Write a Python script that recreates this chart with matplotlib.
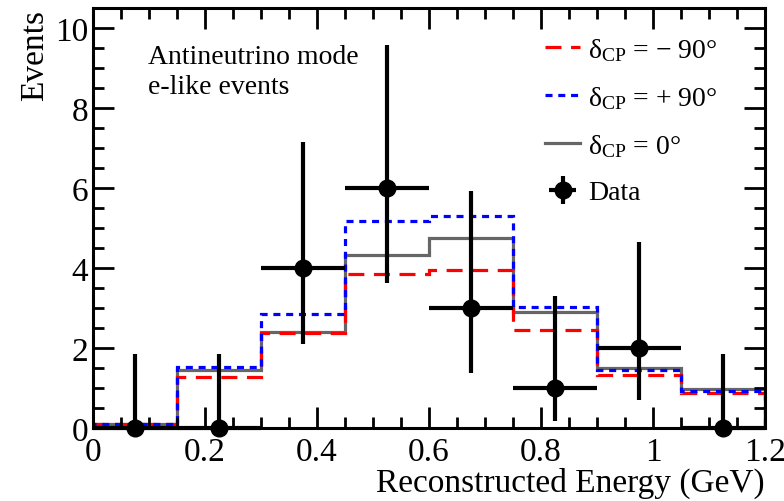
import numpy as np
import matplotlib
matplotlib.use('Agg')
import matplotlib.pyplot as plt

plt.rcParams['font.family'] = 'Liberation Serif'
plt.rcParams['mathtext.fontset'] = 'custom'
plt.rcParams['mathtext.rm'] = 'Liberation Serif'
plt.rcParams['mathtext.it'] = 'Liberation Serif:italic'

# binning (GeV)
bin_edges = [0.0, 0.15, 0.3, 0.45, 0.6, 0.75, 0.9, 1.05, 1.2]

# predictions
dcp_m90 = [0.1, 1.28, 2.37, 3.84, 3.96, 2.45, 1.32, 0.87]
dcp_p90 = [0.1, 1.53, 2.85, 5.17, 5.30, 3.02, 1.44, 0.93]
dcp_0 = [0.1, 1.44, 2.41, 4.33, 4.76, 2.91, 1.49, 0.97]

# data
data_x = [0.075, 0.225, 0.375, 0.525, 0.675, 0.825, 0.975, 1.125]
data_y = [0, 0, 4, 6, 3, 1, 2, 0]
err_lo = [0, 0, 1.91, 2.38, 1.63, 0.83, 1.29, 0]
err_hi = [1.84, 1.84, 3.16, 3.58, 2.92, 2.30, 2.64, 1.84]

fig = plt.figure(figsize=(7.84, 5.02), dpi=100)
ax = fig.add_axes([93/784, 1-429/502, (765-93)/784, (429-9)/502])

lw = 2.3
ax.stairs(dcp_0, bin_edges, color='#666666', lw=lw, label=r'δ$_{\rm CP}$ = 0°')
ax.stairs(dcp_m90, bin_edges, color='red', lw=lw, linestyle=(0, (5, 3)),
          label=r'δ$_{\rm CP}$ = − 90°')
ax.stairs(dcp_p90, bin_edges, color='blue', lw=lw, linestyle=(0, (2.2, 1.8)),
          label=r'δ$_{\rm CP}$ = + 90°')
ax.errorbar(data_x, data_y, yerr=[err_lo, err_hi], xerr=0.075, fmt='o',
            color='black', ms=12, elinewidth=3, capsize=0, label='Data',
            clip_on=False, zorder=5)

ax.set_xlim(0, 1.2)
ax.set_ylim(0, 10.5)
ax.set_xticks(np.arange(0, 1.21, 0.2))
ax.set_xticklabels(['0', '0.2', '0.4', '0.6', '0.8', '1', '1.2'])
ax.set_xticks(np.arange(0, 1.21, 0.05), minor=True)
ax.set_yticks(np.arange(0, 11, 2))
ax.set_yticks(np.arange(0, 10.6, 0.5), minor=True)
ax.tick_params(which='both', direction='in', top=True, right=True,
               labelsize=24, width=2)
ax.tick_params(which='major', length=15)
ax.tick_params(which='minor', length=8)
ax.tick_params(axis='x', pad=6)
for s in ax.spines.values():
    s.set_linewidth(2.2)

h, l = ax.get_legend_handles_labels()
order = [1, 2, 0, 3]
ax.legend([h[i] for i in order], [l[i] for i in order], loc='upper left',
          bbox_to_anchor=((545-93)/672, (429-37)/420), frameon=False,
          fontsize=20, handlelength=1.26, handletextpad=0.29,
          labelspacing=0.76, borderpad=0, borderaxespad=0)

ax.text(0.098, 9.28, 'Antineutrino mode', fontsize=20, va='center')
ax.text(0.098, 8.53, 'e-like events', fontsize=20, va='center')

fig.text(35/784, 1-10/502, 'Events', rotation=90, ha='center', va='top', fontsize=24)
fig.text(765/784, 1-483/502, 'Reconstructed Energy (GeV)', ha='right',
         va='center', fontsize=24)

fig.savefig('out.png', dpi=100)
